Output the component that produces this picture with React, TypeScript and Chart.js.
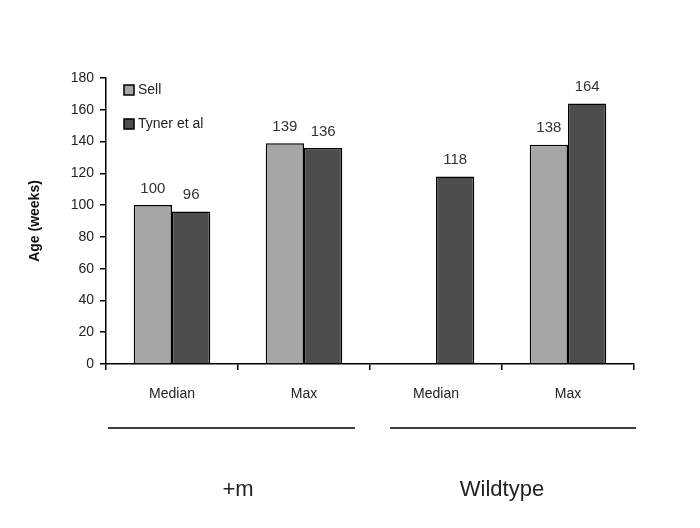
import React, { useEffect, useRef } from "react";
import { Chart, registerables } from "chart.js";

Chart.register(...registerables);

const categories = ["Median", "Max", "Median", "Max"];
const groups = ["+m", "Wildtype"];
const sellValues: (number | null)[] = [100, 139, null, 138];
const tynerValues: (number | null)[] = [96, 136, 118, 164];
const seriesLabels = ["Sell", "Tyner et al"];
const yTicks = [0, 20, 40, 60, 80, 100, 120, 140, 160, 180];

const FONT = "'Liberation Sans', Arial, sans-serif";

const overlayPlugin = {
  id: "overlay",
  afterDatasetsDraw(chart: any) {
    const ctx = chart.ctx;
    const x = chart.scales.x;
    const y = chart.scales.y;
    // value labels
    ctx.save();
    ctx.fillStyle = "#333";
    ctx.font = `15px ${FONT}`;
    ctx.textAlign = "center";
    ctx.textBaseline = "bottom";
    chart.data.datasets.forEach((ds: any, di: number) => {
      const meta = chart.getDatasetMeta(di);
      meta.data.forEach((bar: any, i: number) => {
        const v = ds.data[i];
        if (v === null || v === undefined) return;
        ctx.fillText(String(v), bar.x, bar.y - 9);
      });
    });
    ctx.restore();

    // legend
    ctx.save();
    ctx.font = `14px ${FONT}`;
    ctx.textBaseline = "middle";
    ctx.textAlign = "left";
    chart.data.datasets.forEach((ds: any, di: number) => {
      const ly = y.top + 12 + di * 34;
      const lx = x.left + 18;
      ctx.fillStyle = ds.backgroundColor;
      ctx.strokeStyle = "#000";
      ctx.lineWidth = 1.5;
      ctx.fillRect(lx, ly - 5, 10, 10);
      ctx.strokeRect(lx, ly - 5, 10, 10);
      ctx.fillStyle = "#222";
      ctx.fillText(ds.label, lx + 14, ly);
    });
    ctx.restore();

    // group lines and labels
    const cw = (x.right - x.left) / categories.length;
    ctx.save();
    ctx.strokeStyle = "#000";
    ctx.lineWidth = 1.5;
    ctx.fillStyle = "#222";
    ctx.font = `22px ${FONT}`;
    ctx.textAlign = "center";
    ctx.textBaseline = "middle";
    groups.forEach((g, gi) => {
      const start = x.left + gi * 2 * cw + (gi === 0 ? 2 : 20);
      const end = x.left + (gi + 1) * 2 * cw - (gi === 0 ? 15 : -2);
      ctx.beginPath();
      ctx.moveTo(start, y.bottom + 64);
      ctx.lineTo(end, y.bottom + 64);
      ctx.stroke();
      const cx = x.left + (gi * 2 + 1) * cw;
      ctx.fillText(g, cx, y.bottom + 126);
    });
    ctx.restore();
  },
};

export default function App() {
  const ref = useRef<HTMLCanvasElement | null>(null);
  useEffect(() => {
    if (!ref.current) return;
    const chart = new Chart(ref.current, {
      type: "bar",
      data: {
        labels: categories,
        datasets: [
          {
            label: seriesLabels[0],
            data: sellValues,
            backgroundColor: "#a6a6a6",
            borderColor: "#000",
            borderWidth: 1.5,
            categoryPercentage: 0.58,
            barPercentage: 1,
          },
          {
            label: seriesLabels[1],
            data: tynerValues,
            backgroundColor: "#4d4d4d",
            borderColor: "#000",
            borderWidth: 1.5,
            categoryPercentage: 0.58,
            barPercentage: 1,
          },
        ],
      },
      options: {
        animation: false,
        responsive: false,
        layout: { padding: { left: 27, right: 66, top: 78, bottom: 0 } },
        plugins: { legend: { display: false }, tooltip: { enabled: false } },
        scales: {
          x: {
            offset: true,
            grid: {
              display: true,
              offset: true,
              drawOnChartArea: false,
              drawTicks: true,
              tickLength: 6,
              color: "#000",
              lineWidth: 1.5,
            },
            border: { display: true, color: "#000", width: 1.5 },
            ticks: {
              color: "#222",
              font: { family: FONT, size: 14 },
              padding: 16,
            },
            afterFit(scale: any) {
              scale.height = 164;
            },
          },
          y: {
            min: 0,
            max: 180,
            afterBuildTicks(scale: any) {
              scale.ticks = yTicks.map((v) => ({ value: v }));
            },
            grid: {
              display: true,
              drawOnChartArea: false,
              drawTicks: true,
              tickLength: 6,
              color: "#000",
              lineWidth: 1.5,
            },
            border: { display: true, color: "#000", width: 1.5 },
            ticks: {
              color: "#222",
              font: { family: FONT, size: 14 },
              padding: 6,
            },
            title: {
              display: true,
              text: "Age (weeks)",
              color: "#111",
              font: { family: FONT, size: 14, weight: "bold" },
              padding: { top: 0, bottom: 10 },
            },
            afterFit(scale: any) {
              scale.width = 79;
            },
          },
        },
      },
      plugins: [overlayPlugin],
    });
    return () => chart.destroy();
  }, []);
  return (
    <div style={{ position: "fixed", left: 0, top: 0, width: 700, height: 528, background: "#fff" }}>
      <canvas ref={ref} width={700} height={528} style={{ width: 700, height: 528 }} />
    </div>
  );
}
